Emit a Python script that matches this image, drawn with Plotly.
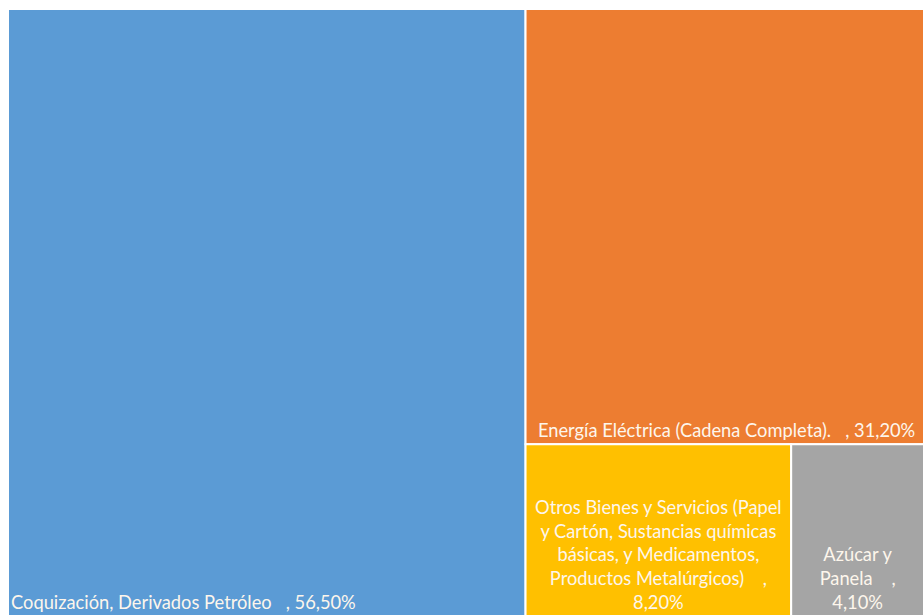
import plotly.graph_objects as go

labels = [
    "Coquización, Derivados Petróleo",
    "Energía Eléctrica (Cadena Completa).",
    "Otros Bienes y Servicios (Papel y Cartón, Sustancias químicas básicas, y Medicamentos, Productos Metalúrgicos)",
    "Azúcar y Panela",
]
display = [
    "Coquización, Derivados Petróleo   , 56,50%",
    "\u00a0\u00a0Energía Eléctrica (Cadena Completa).   , 31,20%",
    "Otros Bienes y Servicios (Papel<br>y Cartón, Sustancias químicas<br>básicas, y Medicamentos,<br>Productos Metalúrgicos)    ,<br>8,20%",
    "Azúcar y<br>Panela    ,<br>4,10%",
]
values = [56.5, 31.2, 8.2, 4.1]
colors = ["#5B9BD5", "#ED7D31", "#FFC000", "#A5A5A5"]
left_aligned = [True, True, False, False]

font = dict(family="Lato, Open Sans, sans-serif", size=18.3, color="#FDF6EC")
common = dict(
    labels=labels,
    parents=[""] * len(labels),
    values=values,
    texttemplate="%{text}",
    tiling=dict(packing="squarify", pad=0),
    pathbar=dict(visible=False),
    sort=True,
    textfont=font,
    root=dict(color="rgba(0,0,0,0)"),
    hoverinfo="skip",
)

fig = go.Figure()
fig.add_trace(go.Treemap(
    text=[d if a else "" for d, a in zip(display, left_aligned)],
    textposition="bottom left",
    marker=dict(colors=colors, line=dict(color="white", width=2), pad=dict(t=0, l=0, r=0, b=0)),
    **common,
))
fig.add_trace(go.Treemap(
    text=["" if a else d for d, a in zip(display, left_aligned)],
    textposition="bottom center",
    marker=dict(colors=["rgba(0,0,0,0)"] * len(labels), line=dict(width=0), pad=dict(t=0, l=0, r=0, b=0)),
    **common,
))
fig.update_layout(
    width=924, height=616,
    margin=dict(l=8, r=0, t=9, b=0),
    paper_bgcolor="white",
    showlegend=False,
)
fig.write_html(
    "out.html",
    config={"displayModeBar": False},
    post_script="document.body.style.margin='0';document.body.style.overflow='hidden';",
)
